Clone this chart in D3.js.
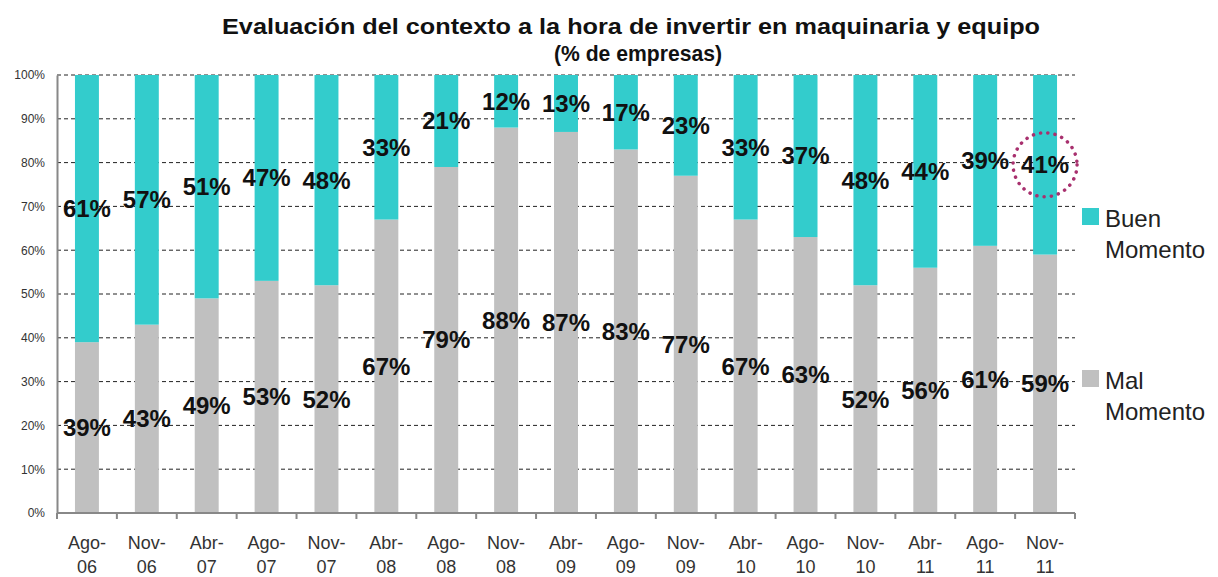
<!DOCTYPE html>
<meta charset="utf-8">
<style>
body { margin: 0; background: #fff; }
* { font-family: Arial, "Liberation Sans", Helvetica, sans-serif; }
</style>
<body>
<script src="https://cdn.jsdelivr.net/npm/d3@7"></script>
<script>

var categories = ["Ago-06","Nov-06","Abr-07","Ago-07","Nov-07","Abr-08","Ago-08","Nov-08",
                  "Abr-09","Ago-09","Nov-09","Abr-10","Ago-10","Nov-10","Abr-11","Ago-11","Nov-11"];
var malMomento  = [39,43,49,53,52,67,79,88,87,83,77,67,63,52,56,61,59];
var buenMomento = [61,57,51,47,48,33,21,12,13,17,23,33,37,48,44,39,41];
var yTicks = [0,10,20,30,40,50,60,70,80,90,100];

var margin = {top: 75, right: 143, bottom: 64, left: 57},
    width = 1218 - margin.left - margin.right,
    height = 577 - margin.top - margin.bottom;

var svg = d3.select("body").append("svg")
    .attr("width", 1218)
    .attr("height", 577);

var g = svg.append("g")
    .attr("transform", "translate(" + margin.left + "," + margin.top + ")");

var x = d3.scaleBand().domain(categories).range([0, width]).paddingInner(0.6).paddingOuter(0.3);
var y = d3.scaleLinear().domain([0, 100]).range([height, 0]);

// title
svg.append("text")
    .attr("x", 631).attr("y", 34)
    .attr("text-anchor", "middle")
    .attr("font-size", "22px").attr("font-weight", "bold").attr("fill", "#111")
    .attr("textLength", 818).attr("lengthAdjust", "spacingAndGlyphs")
    .text("Evaluación del contexto a la hora de invertir en maquinaria y equipo");
svg.append("text")
    .attr("x", 638).attr("y", 61)
    .attr("text-anchor", "middle")
    .attr("font-size", "22px").attr("font-weight", "bold").attr("fill", "#111")
    .attr("textLength", 168).attr("lengthAdjust", "spacingAndGlyphs")
    .text("(% de empresas)");

// gridlines
g.selectAll(".grid").data(yTicks.slice(1)).enter().append("line")
    .attr("x1", 0).attr("x2", width)
    .attr("y1", function(d) { return y(d); })
    .attr("y2", function(d) { return y(d); })
    .attr("stroke", "#222").attr("stroke-width", 1)
    .attr("stroke-dasharray", "4,3");

// stacked bars
var rows = categories.map(function(c, i) {
  return {cat: c, mal: malMomento[i], buen: buenMomento[i]};
});

g.selectAll(".mal").data(rows).enter().append("rect")
    .attr("x", function(d) { return x(d.cat); })
    .attr("width", x.bandwidth())
    .attr("y", function(d) { return y(d.mal); })
    .attr("height", function(d) { return height - y(d.mal); })
    .attr("fill", "#c0c0c0");

g.selectAll(".buen").data(rows).enter().append("rect")
    .attr("x", function(d) { return x(d.cat); })
    .attr("width", x.bandwidth())
    .attr("y", function(d) { return y(d.mal + d.buen); })
    .attr("height", function(d) { return y(d.mal) - y(d.mal + d.buen); })
    .attr("fill", "#33cccc");

// axes
var yAxis = g.append("g")
    .call(d3.axisLeft(y).tickValues(yTicks).tickSize(0).tickPadding(12)
      .tickFormat(function(d) { return d + "%"; }));
yAxis.select(".domain").attr("stroke", "#888").attr("stroke-width", 2);
yAxis.selectAll("text").attr("font-size", "12px").attr("fill", "#333").attr("font-family", "Arial, 'Liberation Sans', sans-serif");

var xAxis = g.append("g").attr("transform", "translate(0," + height + ")");
xAxis.append("line").attr("x1", 0).attr("x2", width).attr("stroke", "#888").attr("stroke-width", 2);
var bandStep = width / categories.length;
xAxis.selectAll(".tk").data(d3.range(categories.length + 1)).enter().append("line")
    .attr("x1", function(i) { return i * bandStep; })
    .attr("x2", function(i) { return i * bandStep; })
    .attr("y1", 0).attr("y2", 6)
    .attr("stroke", "#888").attr("stroke-width", 2);

var xl = xAxis.selectAll(".xl").data(categories).enter().append("text")
    .attr("text-anchor", "middle")
    .attr("font-size", "18px").attr("fill", "#333");
xl.append("tspan")
    .attr("x", function(d) { return x(d) + x.bandwidth() / 2; })
    .attr("y", 36)
    .text(function(d) { return d.split("-")[0] + "-"; });
xl.append("tspan")
    .attr("x", function(d) { return x(d) + x.bandwidth() / 2; })
    .attr("y", 60)
    .text(function(d) { return d.split("-")[1]; });

// value labels
function label(sel, val, mid) {
  sel.append("text")
      .attr("x", function(d) { return x(d.cat) + x.bandwidth() / 2; })
      .attr("y", function(d) { return y(mid(d)); })
      .attr("dy", "0.35em")
      .attr("text-anchor", "middle")
      .attr("font-size", "24px").attr("font-weight", "bold").attr("fill", "#111")
      .text(function(d) { return val(d) + "%"; });
}
var lab = g.selectAll(".lab").data(rows).enter().append("g");
label(lab, function(d) { return d.mal; }, function(d) { return d.mal / 2; });
label(lab, function(d) { return d.buen; }, function(d) { return d.mal + d.buen / 2; });

// highlight circle around last value
var last = rows[rows.length - 1];
g.append("circle")
    .attr("cx", x(last.cat) + x.bandwidth() / 2)
    .attr("cy", y(last.mal + last.buen / 2))
    .attr("r", 32)
    .attr("fill", "none")
    .attr("stroke", "#a8306e").attr("stroke-width", 3.5)
    .attr("stroke-linecap", "round")
    .attr("stroke-dasharray", "0.1,7.2");

// legend
var legend = [
  {name: ["Buen", "Momento"], color: "#33cccc", y: 208},
  {name: ["Mal", "Momento"], color: "#c0c0c0", y: 370}
];
var lg = svg.selectAll(".lg").data(legend).enter().append("g");
lg.append("rect")
    .attr("x", 1082).attr("y", function(d) { return d.y; })
    .attr("width", 17).attr("height", 17)
    .attr("fill", function(d) { return d.color; });
var lt = lg.append("text").attr("font-size", "24px").attr("fill", "#222");
lt.append("tspan").attr("x", 1105).attr("y", function(d) { return d.y + 19; })
    .text(function(d) { return d.name[0]; });
lt.append("tspan").attr("x", 1105).attr("y", function(d) { return d.y + 50; })
    .text(function(d) { return d.name[1]; });

</script>
</body>
</html>
